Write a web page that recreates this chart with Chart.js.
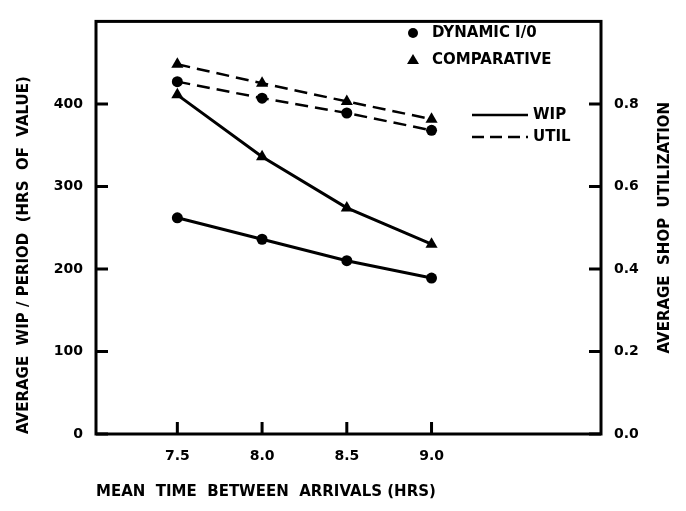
<!DOCTYPE html>
<html lang="en">
<head>
    <meta charset="UTF-8">
    <title>WIP and Shop Utilization</title>
    <script src="https://cdn.jsdelivr.net/npm/chart.js"></script>
    <style>
        body {
            margin: 0;
            padding: 0;
            background: #fff;
        }
        .chart-box {
            width: 686px;
            height: 511px;
        }
    </style>
</head>
<body>
    <div class="chart-box">
        <canvas id="wip-chart" width="686" height="511"></canvas>
    </div>

    <script>
        // values
        const arrivals = [7.5, 8.0, 8.5, 9.0];
        const wipDynamic = [262, 236, 210, 189];
        const wipComparative = [411, 336, 274, 230];
        const utilDynamic = [0.854, 0.814, 0.778, 0.736];
        const utilComparative = [0.896, 0.850, 0.806, 0.763];

        const wipTicks = [0, 100, 200, 300, 400];
        const utilTicks = [0.0, 0.2, 0.4, 0.6, 0.8];

        const FONT = "'DejaVu Sans', 'Liberation Sans', sans-serif";
        const INK = '#000';

        const toPoints = (xs, ys) => xs.map((x, i) => ({ x: x, y: ys[i] }));

        // frame, inward tick marks, right axis title and the legend block
        const decorations = {
            id: 'decorations',
            afterDraw(chart) {
                const ctx = chart.ctx;
                const area = chart.chartArea;
                const { x, yWip, yUtil } = chart.scales;

                ctx.save();
                ctx.strokeStyle = INK;
                ctx.fillStyle = INK;
                ctx.lineWidth = 3;
                ctx.strokeRect(area.left, area.top, area.right - area.left, area.bottom - area.top);

                ctx.beginPath();
                wipTicks.forEach(v => {
                    const py = yWip.getPixelForValue(v);
                    ctx.moveTo(area.left, py);
                    ctx.lineTo(area.left + 12, py);
                });
                utilTicks.forEach(v => {
                    const py = yUtil.getPixelForValue(v);
                    ctx.moveTo(area.right, py);
                    ctx.lineTo(area.right - 12, py);
                });
                arrivals.forEach(v => {
                    const px = x.getPixelForValue(v);
                    ctx.moveTo(px, area.bottom);
                    ctx.lineTo(px, area.bottom - 12);
                });
                ctx.stroke();

                // right axis title reads bottom to top
                ctx.font = 'bold 15px ' + FONT;
                ctx.textAlign = 'center';
                ctx.textBaseline = 'middle';
                ctx.save();
                ctx.translate(665, (area.top + area.bottom) / 2);
                ctx.rotate(-Math.PI / 2);
                ctx.fillText('AVERAGE  SHOP  UTILIZATION', 0, 0);
                ctx.restore();

                // legend
                ctx.textAlign = 'left';
                ctx.font = 'bold 15px ' + FONT;
                ctx.beginPath();
                ctx.arc(413, 33, 5, 0, Math.PI * 2);
                ctx.fill();
                ctx.fillText('DYNAMIC I/0', 432, 33);

                ctx.beginPath();
                ctx.moveTo(413, 54);
                ctx.lineTo(419, 64);
                ctx.lineTo(407, 64);
                ctx.closePath();
                ctx.fill();
                ctx.fillText('COMPARATIVE', 432, 60);

                ctx.lineWidth = 2.5;
                ctx.beginPath();
                ctx.moveTo(472, 115);
                ctx.lineTo(528, 115);
                ctx.stroke();
                ctx.fillText('WIP', 533, 115);

                ctx.setLineDash([12, 6]);
                ctx.beginPath();
                ctx.moveTo(472, 137);
                ctx.lineTo(528, 137);
                ctx.stroke();
                ctx.setLineDash([]);
                ctx.fillText('UTIL', 533, 137);
                ctx.restore();
            }
        };

        const lineSet = (label, data, axis, style, dashed) => ({
            label: label,
            data: data,
            yAxisID: axis,
            borderColor: INK,
            backgroundColor: INK,
            borderWidth: dashed ? 2.5 : 3,
            borderDash: dashed ? [13, 7] : [],
            pointStyle: style,
            pointRadius: style === 'triangle' ? 7 : 5.5,
            pointBorderWidth: 0,
            pointBackgroundColor: INK,
            tension: 0,
            fill: false
        });

        const noGrid = { display: false, drawTicks: false };

        const ctx = document.getElementById('wip-chart').getContext('2d');
        new Chart(ctx, {
            type: 'line',
            data: {
                datasets: [
                    lineSet('WIP Dynamic I/0', toPoints(arrivals, wipDynamic), 'yWip', 'circle', false),
                    lineSet('WIP Comparative', toPoints(arrivals, wipComparative), 'yWip', 'triangle', false),
                    lineSet('UTIL Dynamic I/0', toPoints(arrivals, utilDynamic), 'yUtil', 'circle', true),
                    lineSet('UTIL Comparative', toPoints(arrivals, utilComparative), 'yUtil', 'triangle', true)
                ]
            },
            options: {
                responsive: false,
                animation: false,
                layout: { padding: { top: 8, left: 0, right: 0, bottom: 0 } },
                plugins: {
                    legend: { display: false },
                    tooltip: { enabled: false }
                },
                scales: {
                    x: {
                        type: 'linear',
                        min: 7.02,
                        max: 10,
                        afterBuildTicks: scale => {
                            scale.ticks = arrivals.map(v => ({ value: v }));
                        },
                        afterFit: scale => { scale.height = 77; },
                        grid: noGrid,
                        border: { display: false },
                        ticks: {
                            color: INK,
                            padding: 14,
                            maxRotation: 0,
                            font: { family: FONT, size: 14, weight: 'bold' },
                            callback: v => v.toFixed(1)
                        },
                        title: {
                            display: true,
                            text: 'MEAN  TIME  BETWEEN  ARRIVALS (HRS)',
                            align: 'start',
                            color: INK,
                            padding: { top: 0, bottom: 10 },
                            font: { family: FONT, size: 15, weight: 'bold' }
                        }
                    },
                    yWip: {
                        position: 'left',
                        min: 0,
                        max: 500,
                        afterBuildTicks: scale => {
                            scale.ticks = wipTicks.map(v => ({ value: v }));
                        },
                        afterFit: scale => { scale.width = 96; },
                        grid: noGrid,
                        border: { display: false },
                        ticks: {
                            color: INK,
                            padding: 13,
                            font: { family: FONT, size: 14, weight: 'bold' }
                        },
                        title: {
                            display: true,
                            text: 'AVERAGE  WIP / PERIOD  (HRS  OF  VALUE)',
                            align: 'start',
                            color: INK,
                            padding: { top: 15, bottom: 0 },
                            font: { family: FONT, size: 15, weight: 'bold' }
                        }
                    },
                    yUtil: {
                        position: 'right',
                        min: 0,
                        max: 1,
                        afterBuildTicks: scale => {
                            scale.ticks = utilTicks.map(v => ({ value: v }));
                        },
                        afterFit: scale => { scale.width = 85; },
                        grid: noGrid,
                        border: { display: false },
                        ticks: {
                            color: INK,
                            padding: 13,
                            font: { family: FONT, size: 14, weight: 'bold' },
                            callback: v => v.toFixed(1)
                        }
                    }
                }
            },
            plugins: [decorations]
        });
    </script>
</body>
</html>
